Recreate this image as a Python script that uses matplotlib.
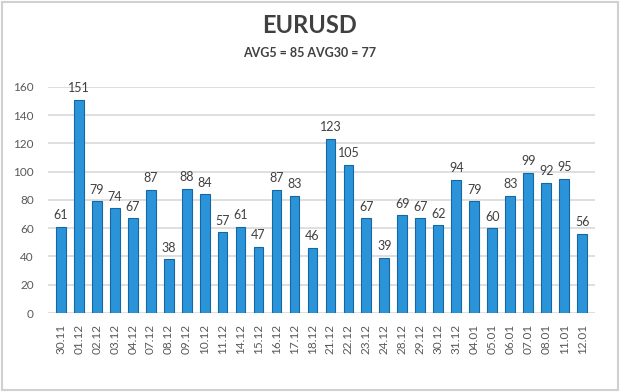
import matplotlib
matplotlib.use("Agg")
import matplotlib.pyplot as plt
from matplotlib.patches import Rectangle

datas = ["30.11", "01.12", "02.12", "03.12", "04.12", "07.12", "08.12", "09.12",
         "10.12", "11.12", "14.12", "15.12", "16.12", "17.12", "18.12", "21.12",
         "22.12", "23.12", "24.12", "28.12", "29.12", "30.12", "31.12", "04.01",
         "05.01", "06.01", "07.01", "08.01", "11.01", "12.01"]
valores = [61, 151, 79, 74, 67, 87, 38, 88, 84, 57, 61, 47, 87, 83, 46, 123,
           105, 67, 39, 69, 67, 62, 94, 79, 60, 83, 99, 92, 95, 56]
yticks = [0, 20, 40, 60, 80, 100, 120, 140, 160]

plt.rcParams["font.family"] = ["Lato", "DejaVu Sans"]

fig = plt.figure(figsize=(6.2, 3.92), dpi=100)
fig.patches.append(Rectangle((0.004, 0.004), 0.992, 0.992, transform=fig.transFigure,
                             fill=False, edgecolor="#d0d0d0", linewidth=1.5))

ax = fig.add_axes([0.077, 0.2015, 0.883, 0.577])
xs = list(range(len(valores)))
ax.bar(xs, valores, width=0.55, color="#2b94d8", edgecolor="#1566a3",
       linewidth=0.8, zorder=3)

for x, v in zip(xs, valores):
    ax.text(x, v + 4, str(v), ha="center", va="bottom", fontsize=9,
            color="#404040")

ax.set_xlim(-0.72, len(valores) - 1 + 0.72)
ax.set_ylim(0, 160)
ax.set_yticks(yticks)
ax.set_xticks(xs)
ax.set_xticklabels(datas, rotation=90, fontsize=8.5, color="#595959")
ax.tick_params(axis="y", labelsize=8.5, labelcolor="#595959", length=0, pad=10)
ax.tick_params(axis="x", length=0, pad=8)
ax.grid(axis="y", color="#d9d9d9", linewidth=1.2, zorder=0)
for s in ax.spines.values():
    s.set_visible(False)

fig.text(0.5, 0.934, "EURUSD", ha="center", va="center", fontsize=17,
         fontweight="bold", color="#404040")
fig.text(0.5, 0.865, "AVG5 = 85 AVG30 = 77", ha="center", va="center",
         fontsize=9, fontweight="bold", color="#404040")

fig.savefig("out.png", dpi=100)
